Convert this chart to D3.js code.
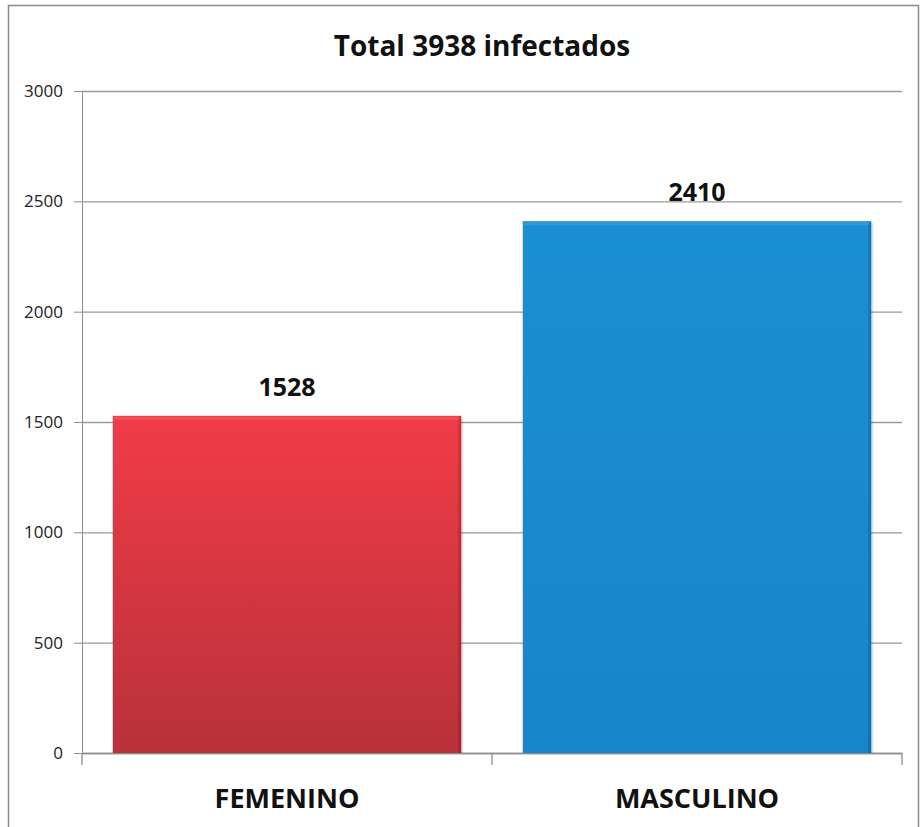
<!DOCTYPE html>
<html>
<head>
<meta charset="utf-8">
<script src="https://cdn.jsdelivr.net/npm/d3@7"></script>
<style>
  body { margin: 0; background: #fff; }
  svg { display: block; }
</style>
</head>
<body>
<div id="chart"></div>
<script>
const categories = ['FEMENINO', 'MASCULINO'];
const values = [1528, 2410];
const yTicks = [0, 500, 1000, 1500, 2000, 2500, 3000];
const title = 'Total 3938 infectados';

const width = 923;
const height = 827;
const margin = {top: 91, right: 21, bottom: 74, left: 82};

const svg = d3.select('#chart')
  .append('svg')
  .attr('width', width)
  .attr('height', height);

const defs = svg.append('defs');

function grad(id, top, bottom) {
  const g = defs.append('linearGradient')
    .attr('id', id)
    .attr('x1', 0).attr('y1', 0).attr('x2', 0).attr('y2', 1);
  g.append('stop').attr('offset', '0%').attr('stop-color', top);
  g.append('stop').attr('offset', '100%').attr('stop-color', bottom);
}
grad('gRed', '#f13c47', '#b8313a');
grad('gBlue', '#1b8fd3', '#1786c8');

// outer frame (bottom edge cropped off in the original)
svg.append('path')
  .attr('d', 'M8.5,' + height + 'V5.5H918.5V' + height)
  .attr('fill', 'none')
  .attr('stroke', '#8a8a8a')
  .attr('stroke-width', 1.5);

const x = d3.scaleBand()
  .domain(categories)
  .range([margin.left, width - margin.right])
  .paddingInner(0.15)
  .paddingOuter(0.075);

const y = d3.scaleLinear()
  .domain([0, 3000])
  .range([height - margin.bottom, margin.top]);

// gridlines + y axis
const yAxis = svg.append('g')
  .attr('transform', 'translate(' + margin.left + ',0)')
  .call(d3.axisLeft(y)
    .tickValues(yTicks)
    .tickFormat(d3.format('d'))
    .tickSize(8)
    .tickSizeOuter(0)
    .tickPadding(11));
yAxis.select('.domain').attr('stroke', '#8c8c8c');
yAxis.selectAll('.tick line').attr('stroke', '#8c8c8c');
yAxis.selectAll('.tick text')
  .attr('fill', '#222')
  .style('font-family', '"Open Sans", "Liberation Sans", sans-serif')
  .style('font-size', '17px');
yAxis.selectAll('.tick')
  .append('line')
  .attr('x1', 0)
  .attr('x2', width - margin.right - margin.left)
  .attr('stroke', '#9a9a9a')
  .attr('stroke-width', 1.3);

// x axis
const xAxis = svg.append('g')
  .attr('transform', 'translate(0,' + (height - margin.bottom) + ')')
  .call(d3.axisBottom(x).tickSize(0).tickPadding(36));
xAxis.select('.domain').attr('stroke', '#8c8c8c').attr('stroke-width', 1.3);
xAxis.selectAll('.tick text')
  .attr('fill', '#111')
  .style('font-family', '"Open Sans", "Liberation Sans", sans-serif')
  .style('font-weight', 'bold')
  .style('font-size', '27px');

// category separators ticks below axis
const sep = [margin.left, width - margin.right].concat([(x('FEMENINO') + x.bandwidth() + x('MASCULINO')) / 2]);
svg.append('g').selectAll('line')
  .data(sep)
  .enter()
  .append('line')
  .attr('x1', d => d).attr('x2', d => d)
  .attr('y1', height - margin.bottom)
  .attr('y2', height - margin.bottom + 12)
  .attr('stroke', '#8c8c8c')
  .attr('stroke-width', 1.3);

// bars
const bars = svg.append('g').selectAll('g')
  .data(categories)
  .enter()
  .append('g');

bars.append('rect')
  .attr('x', d => x(d) + 2)
  .attr('y', (d, i) => y(values[i]) + 2)
  .attr('width', x.bandwidth())
  .attr('height', (d, i) => y(0) - y(values[i]) - 2)
  .attr('fill', '#000')
  .attr('opacity', 0.12);

bars.append('rect')
  .attr('x', d => x(d))
  .attr('y', (d, i) => y(values[i]))
  .attr('width', x.bandwidth())
  .attr('height', (d, i) => y(0) - y(values[i]))
  .attr('fill', (d, i) => i === 0 ? 'url(#gRed)' : 'url(#gBlue)');

// bevel highlights
bars.append('rect')
  .attr('x', d => x(d) + 1)
  .attr('y', (d, i) => y(values[i]) + 1)
  .attr('width', x.bandwidth() - 2)
  .attr('height', 3)
  .attr('fill', '#fff')
  .attr('opacity', 0.1);

bars.append('rect')
  .attr('x', d => x(d) + x.bandwidth() - 3)
  .attr('y', (d, i) => y(values[i]))
  .attr('width', 3)
  .attr('height', (d, i) => y(0) - y(values[i]))
  .attr('fill', '#000')
  .attr('opacity', 0.15);

// value labels
bars.append('text')
  .attr('x', d => x(d) + x.bandwidth() / 2)
  .attr('y', (d, i) => y(values[i]) - 20)
  .attr('text-anchor', 'middle')
  .attr('fill', '#111')
  .style('font-family', '"Open Sans", "Liberation Sans", sans-serif')
  .style('font-weight', 'bold')
  .style('font-size', '25px')
  .text((d, i) => values[i]);

// title
svg.append('text')
  .attr('x', 482)
  .attr('y', 56)
  .attr('text-anchor', 'middle')
  .attr('fill', '#111')
  .style('font-family', '"Open Sans", "Liberation Sans", sans-serif')
  .style('font-weight', 'bold')
  .style('font-size', '28px')
  .text(title);
</script>
</body>
</html>
